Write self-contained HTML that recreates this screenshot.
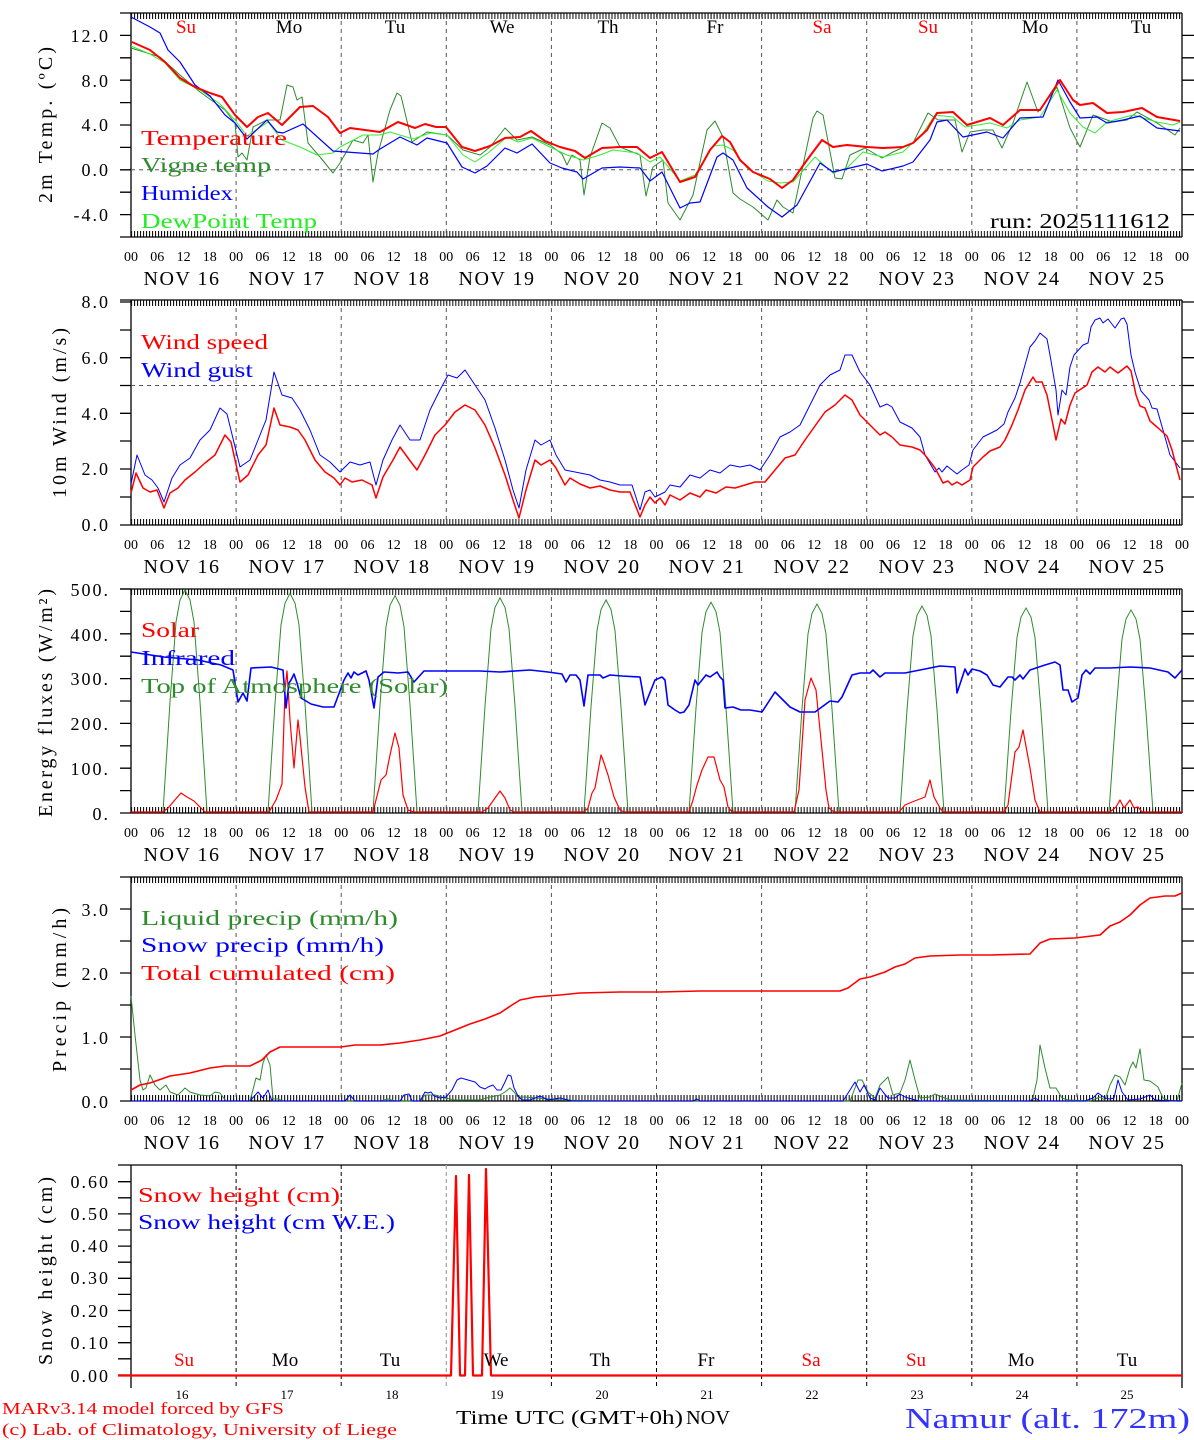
<!DOCTYPE html>
<html><head><meta charset="utf-8"><style>
html,body{margin:0;padding:0;background:#fff;}
svg{display:block;}
text{font-family:"Liberation Serif",serif;}
.hl{font-size:14px;text-anchor:middle;fill:#000;}
.dt{font-size:20px;text-anchor:middle;fill:#000;letter-spacing:1.5px;}
.yl{font-size:18px;text-anchor:end;fill:#000;letter-spacing:2px;}
.lg{font-size:21px;}
.ax{stroke:#000;stroke-width:1.3;fill:none;}
.gr{stroke:#555;stroke-width:1;stroke-dasharray:4,4;fill:none;}
.s{fill:none;stroke-linejoin:round;}
</style></head><body>
<svg width="1194" height="1440" viewBox="0 0 1194 1440" xmlns="http://www.w3.org/2000/svg">
<defs>
<pattern id="tk" x="131" y="0" width="3.003" height="10" patternUnits="userSpaceOnUse"><line x1="0.5" y1="0" x2="0.5" y2="10" stroke="#000" stroke-width="1"/></pattern>
<path id="bell" d="M-22,0 L-15,-110 L-9,-190 L-5,-212 L0,-222 L5,-212 L9,-190 L15,-110 L22,0" fill="none" stroke="#2e8b2e" stroke-width="1"/>
</defs>

<!-- ================= PANEL 1 ================= -->
<g>
<rect x="131" y="13" width="1051" height="6" fill="url(#tk)"/>
<rect x="131" y="231" width="1051" height="6" fill="url(#tk)"/>
<line class="ax" x1="120" y1="13" x2="1182" y2="13"/>
<line class="ax" x1="120" y1="237" x2="1182" y2="237"/>
<line class="ax" x1="131" y1="13" x2="131" y2="237"/>
<line class="ax" x1="1182" y1="13" x2="1182" y2="237"/>
<g class="ax"><path d="M120,35.4H131M120,57.8H131M120,80.2H131M120,102.6H131M120,125H131M120,147.4H131M120,169.8H131M120,192.2H131M120,214.6H131M1182,35.4H1194M1182,57.8H1194M1182,80.2H1194M1182,102.6H1194M1182,125H1194M1182,147.4H1194M1182,169.8H1194M1182,192.2H1194M1182,214.6H1194"/></g>
<path class="gr" d="M236.1,13V237M341.2,13V237M446.3,13V237M551.4,13V237M656.5,13V237M761.6,13V237M866.7,13V237M971.8,13V237M1076.9,13V237M131,169.8H1182"/>
<text class="yl" x="110" y="42">12.0</text><text class="yl" x="110" y="87">8.0</text><text class="yl" x="110" y="131">4.0</text><text class="yl" x="110" y="176">0.0</text><text class="yl" x="110" y="221">-4.0</text>
<text x="52" y="125" transform="rotate(-90 52 125)" text-anchor="middle" font-size="20" textLength="156" lengthAdjust="spacing">2m Temp. (ºC)</text>
<g font-size="19" text-anchor="middle">
<text x="186" y="33" fill="#f00">Su</text><text x="289" y="33">Mo</text><text x="395" y="33">Tu</text><text x="502" y="33">We</text><text x="608" y="33">Th</text><text x="715" y="33">Fr</text><text x="822" y="33" fill="#f00">Sa</text><text x="928" y="33" fill="#f00">Su</text><text x="1035" y="33">Mo</text><text x="1141" y="33">Tu</text>
</g>
<polyline class="s" stroke="#2e8b2e" stroke-width="1" points="131,48 160,57 180,75 200,92 225,110 235,123 238,157 242,153 247,160 253,127 267,120 280,120 287,85 293,87 297,100 302,97 308,143 320,157 333,173 340,163 353,140 363,143 368,135 373,182 378,153 390,110 397,93 401,96 412,142 427,132 447,135 463,150 480,155 490,147 505,128 517,140 532,137 550,145 562,154 567,165 572,155 580,160 584,195 590,157 602,123 610,128 620,147 640,155 646,196 653,167 663,160 668,203 680,220 693,195 707,130 715,121 723,137 733,193 740,199 753,207 768,220 777,200 783,207 793,213 813,118 817,111 823,115 835,178 842,179 850,155 865,148 882,158 893,152 913,143 928,113 938,120 955,120 962,152 970,132 983,130 993,130 1002,148 1013,123 1027,82 1038,112 1057,87 1070,128 1080,147 1093,115 1113,122 1127,120 1137,112 1157,123 1175,135 1180,128"/>
<polyline class="s" stroke="#33ee33" stroke-width="1" points="131,46 150,54 165,63 180,80 200,90 220,104 235,120 247,136 268,122 282,140 300,147 317,155 333,153 340,147 363,135 380,135 390,132 413,139 430,133 447,135 463,155 475,162 488,153 507,137 518,142 532,138 550,147 567,155 583,160 600,155 613,150 637,153 650,162 660,157 680,181 695,175 713,146 723,145 733,150 747,168 768,181 780,183 793,182 815,157 833,173 847,168 863,152 883,157 903,152 923,133 935,115 953,117 965,127 990,123 1007,128 1020,120 1040,117 1057,90 1070,113 1083,127 1095,133 1107,122 1133,115 1157,122 1173,125 1180,122"/>
<polyline class="s" stroke="#0000ff" stroke-width="1.2" points="131,17 150,27 160,33 168,50 180,62 195,85 210,96 225,115 235,123 247,139 267,120 277,132 283,133 303,124 333,151 373,154 380,149 400,137 417,145 427,138 447,143 462,167 475,173 487,166 505,148 517,153 532,144 550,163 562,168 577,172 583,179 602,168 620,167 640,168 650,181 662,172 680,208 690,203 700,202 717,157 723,153 733,160 747,188 768,207 782,217 797,205 820,163 833,172 850,168 867,164 882,171 903,166 913,162 930,140 937,122 947,120 963,137 987,132 1003,138 1020,118 1043,117 1058,80 1070,102 1080,118 1097,117 1107,123 1123,120 1140,116 1157,128 1180,131"/>
<polyline class="s" stroke="#ff0000" stroke-width="2" points="132,42 150,50 165,62 180,78 195,87 210,93 222,97 235,115 247,127 258,117 268,113 282,125 300,107 313,106 328,117 340,133 350,128 365,130 380,132 398,122 415,128 425,124 436,127 446,127 462,147 475,151 490,146 505,138 520,137 531,131 545,141 560,147 575,151 585,158 602,148 620,147 637,147 650,158 662,152 680,182 695,177 710,150 722,136 730,142 740,160 753,172 770,179 782,188 793,180 807,160 822,140 833,147 847,145 867,147 883,148 903,147 913,143 927,130 937,113 953,112 967,125 990,118 1003,125 1020,110 1040,110 1060,80 1073,100 1080,105 1093,103 1107,113 1123,112 1142,108 1157,117 1180,121"/>
<g class="lg">
<text x="141" y="145" fill="#f00" textLength="146" lengthAdjust="spacingAndGlyphs">Temperature</text>
<text x="141" y="172" fill="#2e8b2e" textLength="130" lengthAdjust="spacingAndGlyphs">Vigne temp</text>
<text x="141" y="200" fill="#00f" textLength="92" lengthAdjust="spacingAndGlyphs">Humidex</text>
<text x="141" y="228" fill="#22ee22" textLength="176" lengthAdjust="spacingAndGlyphs">DewPoint Temp</text>
<text x="990" y="228" fill="#000" textLength="180" lengthAdjust="spacingAndGlyphs">run: 2025111612</text>
</g>
<text class="hl" y="261"><tspan x="131">00</tspan><tspan x="157.3">06</tspan><tspan x="183.6">12</tspan><tspan x="209.8">18</tspan><tspan x="236.1">00</tspan><tspan x="262.4">06</tspan><tspan x="288.7">12</tspan><tspan x="314.9">18</tspan><tspan x="341.2">00</tspan><tspan x="367.5">06</tspan><tspan x="393.8">12</tspan><tspan x="420">18</tspan><tspan x="446.3">00</tspan><tspan x="472.6">06</tspan><tspan x="498.9">12</tspan><tspan x="525.1">18</tspan><tspan x="551.4">00</tspan><tspan x="577.7">06</tspan><tspan x="604">12</tspan><tspan x="630.2">18</tspan><tspan x="656.5">00</tspan><tspan x="682.8">06</tspan><tspan x="709.1">12</tspan><tspan x="735.3">18</tspan><tspan x="761.6">00</tspan><tspan x="787.9">06</tspan><tspan x="814.2">12</tspan><tspan x="840.4">18</tspan><tspan x="866.7">00</tspan><tspan x="893">06</tspan><tspan x="919.3">12</tspan><tspan x="945.5">18</tspan><tspan x="971.8">00</tspan><tspan x="998.1">06</tspan><tspan x="1024.4">12</tspan><tspan x="1050.6">18</tspan><tspan x="1076.9">00</tspan><tspan x="1103.2">06</tspan><tspan x="1129.5">12</tspan><tspan x="1155.7">18</tspan><tspan x="1182">00</tspan></text>
<text class="dt" y="285"><tspan x="182">NOV 16</tspan><tspan x="287">NOV 17</tspan><tspan x="392">NOV 18</tspan><tspan x="497">NOV 19</tspan><tspan x="602">NOV 20</tspan><tspan x="707">NOV 21</tspan><tspan x="812">NOV 22</tspan><tspan x="917">NOV 23</tspan><tspan x="1022">NOV 24</tspan><tspan x="1127">NOV 25</tspan></text>
</g>

<!-- ================= PANEL 2 ================= -->
<g>
<rect x="131" y="300" width="1051" height="6" fill="url(#tk)"/>
<rect x="131" y="519" width="1051" height="6" fill="url(#tk)"/>
<line class="ax" x1="120" y1="300" x2="1182" y2="300"/>
<line class="ax" x1="120" y1="525" x2="1182" y2="525"/>
<line class="ax" x1="131" y1="300" x2="131" y2="525"/>
<line class="ax" x1="1182" y1="300" x2="1182" y2="525"/>
<path class="ax" d="M120,302H131M120,330H131M120,357.7H131M120,385.5H131M120,413.3H131M120,441H131M120,469H131M120,497H131M1182,302H1194M1182,330H1194M1182,357.7H1194M1182,385.5H1194M1182,413.3H1194M1182,441H1194M1182,469H1194M1182,497H1194"/>
<path class="gr" d="M236.1,300V525M341.2,300V525M446.3,300V525M551.4,300V525M656.5,300V525M761.6,300V525M866.7,300V525M971.8,300V525M1076.9,300V525M131,385.5H1182"/>
<text class="yl" x="110" y="308">8.0</text><text class="yl" x="110" y="364">6.0</text><text class="yl" x="110" y="420">4.0</text><text class="yl" x="110" y="475">2.0</text><text class="yl" x="110" y="531">0.0</text>
<text x="66" y="413" transform="rotate(-90 66 413)" text-anchor="middle" font-size="20" textLength="170" lengthAdjust="spacing">10m Wind (m/s)</text>
<polyline class="s" stroke="#0000ff" stroke-width="1" points="131,484 137,455 145,475 152,480 158,488 164,502 172,478 180,465 190,458 200,440 210,430 220,408 227,414 240,467 250,460 258,440 266,420 274,372 282,395 292,398 300,410 310,430 320,455 330,462 340,472 350,462 360,465 370,462 376,485 383,460 392,440 400,425 410,440 420,440 430,410 440,390 448,375 457,378 465,370 475,385 485,400 495,428 505,460 513,490 519,508 526,470 535,440 541,445 550,440 556,455 565,470 575,472 590,475 600,480 610,482 620,485 632,485 640,510 645,492 650,490 655,497 665,492 670,485 680,487 690,475 700,478 710,470 720,473 730,465 740,467 750,465 760,470 770,455 780,437 790,432 800,425 810,405 820,385 830,375 840,370 845,355 852,355 860,372 870,385 880,407 887,404 892,407 900,422 912,428 920,437 925,455 935,472 939,468 942,472 947,466 952,470 957,474 962,470 969,465 973,450 983,437 997,430 1004,424 1008,412 1015,398 1020,383 1025,365 1030,347 1035,341 1040,333 1047,339 1050,355 1056,390 1058,415 1062,390 1066,395 1070,367 1074,355 1083,345 1088,343 1091,327 1095,320 1100,318 1103,323 1108,319 1115,328 1121,319 1124,318 1127,324 1131,355 1135,372 1141,391 1149,400 1152,408 1157,409 1163,430 1170,455 1180,468"/>
<polyline class="s" stroke="#ff0000" stroke-width="1.5" points="131,493 136,473 143,488 150,492 157,490 164,508 170,493 178,488 185,480 195,472 205,463 215,455 225,435 231,442 240,482 248,475 258,455 266,445 274,408 280,425 290,427 298,430 305,440 315,460 325,472 334,478 340,485 345,478 352,482 362,480 372,485 376,498 383,477 393,460 400,447 408,458 417,470 425,455 435,435 445,425 455,412 465,405 475,410 485,425 495,448 505,475 513,500 519,518 526,490 535,460 541,465 550,460 556,468 565,485 570,478 580,484 590,488 600,486 610,490 620,492 630,492 640,517 645,505 650,497 655,503 660,498 665,505 670,495 680,500 690,493 700,497 706,490 716,493 726,487 735,488 745,485 755,482 765,482 775,470 785,458 795,455 805,440 815,426 825,412 835,405 845,395 852,400 860,415 870,425 880,435 885,432 892,437 900,445 912,447 920,450 925,455 935,468 943,483 948,481 952,485 957,482 962,485 970,480 973,467 983,457 990,451 1000,447 1005,440 1012,425 1018,410 1025,390 1033,377 1036,382 1042,382 1047,395 1056,440 1061,419 1065,424 1070,405 1075,393 1087,385 1092,372 1098,367 1105,372 1110,367 1118,373 1127,366 1131,371 1136,395 1140,406 1145,408 1150,421 1157,427 1167,436 1172,450 1180,480"/>
<g class="lg">
<text x="141" y="349" fill="#f00" textLength="127" lengthAdjust="spacingAndGlyphs">Wind speed</text>
<text x="141" y="377" fill="#00f" textLength="112" lengthAdjust="spacingAndGlyphs">Wind gust</text>
</g>
<text class="hl" y="549"><tspan x="131">00</tspan><tspan x="157.3">06</tspan><tspan x="183.6">12</tspan><tspan x="209.8">18</tspan><tspan x="236.1">00</tspan><tspan x="262.4">06</tspan><tspan x="288.7">12</tspan><tspan x="314.9">18</tspan><tspan x="341.2">00</tspan><tspan x="367.5">06</tspan><tspan x="393.8">12</tspan><tspan x="420">18</tspan><tspan x="446.3">00</tspan><tspan x="472.6">06</tspan><tspan x="498.9">12</tspan><tspan x="525.1">18</tspan><tspan x="551.4">00</tspan><tspan x="577.7">06</tspan><tspan x="604">12</tspan><tspan x="630.2">18</tspan><tspan x="656.5">00</tspan><tspan x="682.8">06</tspan><tspan x="709.1">12</tspan><tspan x="735.3">18</tspan><tspan x="761.6">00</tspan><tspan x="787.9">06</tspan><tspan x="814.2">12</tspan><tspan x="840.4">18</tspan><tspan x="866.7">00</tspan><tspan x="893">06</tspan><tspan x="919.3">12</tspan><tspan x="945.5">18</tspan><tspan x="971.8">00</tspan><tspan x="998.1">06</tspan><tspan x="1024.4">12</tspan><tspan x="1050.6">18</tspan><tspan x="1076.9">00</tspan><tspan x="1103.2">06</tspan><tspan x="1129.5">12</tspan><tspan x="1155.7">18</tspan><tspan x="1182">00</tspan></text>
<text class="dt" y="573"><tspan x="182">NOV 16</tspan><tspan x="287">NOV 17</tspan><tspan x="392">NOV 18</tspan><tspan x="497">NOV 19</tspan><tspan x="602">NOV 20</tspan><tspan x="707">NOV 21</tspan><tspan x="812">NOV 22</tspan><tspan x="917">NOV 23</tspan><tspan x="1022">NOV 24</tspan><tspan x="1127">NOV 25</tspan></text>
</g>

<!-- ================= PANEL 3 ================= -->
<g>
<rect x="131" y="589" width="1051" height="6" fill="url(#tk)"/>
<rect x="131" y="807" width="1051" height="6" fill="url(#tk)"/>
<line class="ax" x1="120" y1="589" x2="1182" y2="589"/>
<line class="ax" x1="120" y1="813" x2="1182" y2="813"/>
<line class="ax" x1="131" y1="589" x2="131" y2="813"/>
<line class="ax" x1="1182" y1="589" x2="1182" y2="813"/>
<path class="ax" d="M120,589H131M120,611.4H131M120,633.8H131M120,656.2H131M120,678.6H131M120,701H131M120,723.4H131M120,745.8H131M120,768.2H131M120,790.6H131M1182,611.4H1194M1182,633.8H1194M1182,656.2H1194M1182,678.6H1194M1182,701H1194M1182,723.4H1194M1182,745.8H1194M1182,768.2H1194M1182,790.6H1194"/>
<path class="gr" d="M236.1,589V813M341.2,589V813M446.3,589V813M551.4,589V813M656.5,589V813M761.6,589V813M866.7,589V813M971.8,589V813M1076.9,589V813"/>
<text class="yl" x="110" y="596">500.</text><text class="yl" x="110" y="641">400.</text><text class="yl" x="110" y="685">300.</text><text class="yl" x="110" y="730">200.</text><text class="yl" x="110" y="775">100.</text><text class="yl" x="110" y="820">0.</text>
<text x="52" y="703" transform="rotate(-90 52 703)" text-anchor="middle" font-size="20" textLength="228" lengthAdjust="spacing">Energy fluxes (W/m²)</text>
<use href="#bell" transform="translate(185,812)"/>
<use href="#bell" transform="translate(290,812) scale(1,0.985)"/>
<use href="#bell" transform="translate(395,812) scale(1,0.975)"/>
<use href="#bell" transform="translate(500,812) scale(1,0.965)"/>
<use href="#bell" transform="translate(606,812) scale(1,0.955)"/>
<use href="#bell" transform="translate(711,812) scale(1,0.945)"/>
<use href="#bell" transform="translate(817,812) scale(1,0.937)"/>
<use href="#bell" transform="translate(922,812) scale(1,0.928)"/>
<use href="#bell" transform="translate(1026,812) scale(1,0.919)"/>
<use href="#bell" transform="translate(1131,812) scale(1,0.91)"/>
<polyline class="s" stroke="#ff0000" stroke-width="1.2" points="131,812 163,812 168,808 174,801 181,793 187,797 194,801 200,807 205,812 269,812 276,800 282,784 285,690 287,671 290,720 294,768 298,720 300,737 305,787 309,812 373,812 381,780 386,775 390,755 395,733 399,748 403,795 408,810 414,812 482,812 488,808 495,798 500,791 505,798 510,810 514,812 584,812 588,808 592,793 595,788 601,755 603,760 608,775 614,797 620,810 624,812 689,812 693,800 697,785 702,770 708,757 714,757 720,780 724,787 728,807 732,812 794,812 799,790 805,700 811,678 816,690 821,740 826,790 829,808 834,812 899,812 905,805 912,802 925,797 930,780 934,797 940,808 943,812 1004,812 1008,805 1015,752 1019,747 1023,730 1030,768 1035,800 1040,812 1110,812 1116,807 1120,800 1124,808 1130,800 1134,808 1138,807 1142,812 1182,812"/>
<polyline class="s" stroke="#0000ff" stroke-width="1.6" points="131,652 164,657 198,660 221,665 233,670 238,702 243,693 247,701 251,668 271,667 283,670 286,708 289,683 291,680 294,674 297,683 301,698 311,704 323,707 334,707 344,680 348,673 351,678 354,672 358,675 366,671 369,680 374,708 378,677 384,672 398,673 408,672 414,682 424,671 446,671 480,671 500,672 530,670 548,672 562,674 566,682 570,675 576,675 580,680 584,706 588,675 600,675 603,678 610,675 622,676 640,677 645,705 655,680 662,677 665,680 668,705 675,710 680,713 684,712 689,705 695,680 698,685 706,675 710,677 717,672 720,677 723,680 725,708 733,707 741,710 750,710 762,712 775,692 790,707 800,712 815,712 830,701 838,702 842,697 852,675 860,673 870,673 873,670 880,677 885,673 905,673 925,669 940,666 955,667 957,693 965,669 968,675 972,669 980,671 987,675 993,685 1000,687 1008,677 1012,677 1015,680 1020,675 1023,679 1030,670 1045,665 1055,662 1060,665 1063,690 1068,690 1072,702 1078,698 1082,675 1086,670 1090,674 1095,668 1110,668 1130,667 1150,668 1168,672 1175,678 1182,670"/>
<g class="lg">
<text x="141" y="637" fill="#f00" textLength="58" lengthAdjust="spacingAndGlyphs">Solar</text>
<text x="141" y="665" fill="#00f" textLength="94" lengthAdjust="spacingAndGlyphs">Infrared</text>
<text x="141" y="693" fill="#2e8b2e" textLength="307" lengthAdjust="spacingAndGlyphs">Top of Atmosphere (Solar)</text>
</g>
<text class="hl" y="837"><tspan x="131">00</tspan><tspan x="157.3">06</tspan><tspan x="183.6">12</tspan><tspan x="209.8">18</tspan><tspan x="236.1">00</tspan><tspan x="262.4">06</tspan><tspan x="288.7">12</tspan><tspan x="314.9">18</tspan><tspan x="341.2">00</tspan><tspan x="367.5">06</tspan><tspan x="393.8">12</tspan><tspan x="420">18</tspan><tspan x="446.3">00</tspan><tspan x="472.6">06</tspan><tspan x="498.9">12</tspan><tspan x="525.1">18</tspan><tspan x="551.4">00</tspan><tspan x="577.7">06</tspan><tspan x="604">12</tspan><tspan x="630.2">18</tspan><tspan x="656.5">00</tspan><tspan x="682.8">06</tspan><tspan x="709.1">12</tspan><tspan x="735.3">18</tspan><tspan x="761.6">00</tspan><tspan x="787.9">06</tspan><tspan x="814.2">12</tspan><tspan x="840.4">18</tspan><tspan x="866.7">00</tspan><tspan x="893">06</tspan><tspan x="919.3">12</tspan><tspan x="945.5">18</tspan><tspan x="971.8">00</tspan><tspan x="998.1">06</tspan><tspan x="1024.4">12</tspan><tspan x="1050.6">18</tspan><tspan x="1076.9">00</tspan><tspan x="1103.2">06</tspan><tspan x="1129.5">12</tspan><tspan x="1155.7">18</tspan><tspan x="1182">00</tspan></text>
<text class="dt" y="861"><tspan x="182">NOV 16</tspan><tspan x="287">NOV 17</tspan><tspan x="392">NOV 18</tspan><tspan x="497">NOV 19</tspan><tspan x="602">NOV 20</tspan><tspan x="707">NOV 21</tspan><tspan x="812">NOV 22</tspan><tspan x="917">NOV 23</tspan><tspan x="1022">NOV 24</tspan><tspan x="1127">NOV 25</tspan></text>
</g>

<!-- ================= PANEL 4 ================= -->
<g>
<rect x="131" y="877" width="1051" height="6" fill="url(#tk)"/>
<rect x="131" y="1095" width="1051" height="6" fill="url(#tk)"/>
<line class="ax" x1="120" y1="877" x2="1182" y2="877"/>
<line class="ax" x1="120" y1="1101" x2="1182" y2="1101"/>
<line class="ax" x1="131" y1="877" x2="131" y2="1101"/>
<line class="ax" x1="1182" y1="877" x2="1182" y2="1101"/>
<path class="ax" d="M120,909H131M120,941H131M120,973H131M120,1005H131M120,1037H131M120,1069H131M1182,909H1194M1182,941H1194M1182,973H1194M1182,1005H1194M1182,1037H1194M1182,1069H1194"/>
<path class="gr" d="M236.1,877V1101M341.2,877V1101M446.3,877V1101M551.4,877V1101M656.5,877V1101M761.6,877V1101M866.7,877V1101M971.8,877V1101M1076.9,877V1101"/>
<text class="yl" x="110" y="916">3.0</text><text class="yl" x="110" y="980">2.0</text><text class="yl" x="110" y="1044">1.0</text><text class="yl" x="110" y="1108">0.0</text>
<text x="66" y="990" transform="rotate(-90 66 990)" text-anchor="middle" font-size="20" textLength="164" lengthAdjust="spacing">Precip (mm/h)</text>
<polyline class="s" stroke="#2e8b2e" stroke-width="1" points="131,996 135,1035 140,1080 143,1090 146,1088 150,1075 155,1085 160,1090 166,1085 170,1092 178,1095 185,1088 190,1092 200,1095 210,1096 215,1092 220,1093 226,1101 250,1101 256,1078 260,1080 263,1063 266,1055 270,1065 273,1099 278,1099 283,1101 380,1101 388,1099 395,1101 420,1101 425,1095 435,1095 445,1098 455,1100 480,1100 490,1097 500,1095 505,1092 510,1088 514,1092 518,1097 525,1097 535,1098 550,1099 560,1100 600,1101 850,1101 858,1080 862,1080 868,1092 875,1098 880,1085 888,1077 893,1095 900,1093 905,1080 910,1060 915,1080 920,1098 930,1097 935,1094 942,1097 950,1100 1030,1101 1033,1098 1037,1080 1040,1045 1045,1068 1050,1088 1056,1088 1062,1098 1068,1100 1090,1101 1100,1097 1105,1100 1110,1085 1115,1075 1120,1077 1125,1085 1130,1068 1133,1062 1136,1068 1140,1049 1144,1080 1150,1081 1158,1087 1163,1098 1170,1101 1177,1101 1182,1083"/>
<polyline class="s" stroke="#0000ff" stroke-width="1" points="131,1101 250,1101 258,1092 263,1098 268,1090 272,1101 345,1101 350,1095 355,1101 400,1101 404,1095 409,1094 412,1101 420,1101 425,1092 428,1093 431,1092 434,1096 440,1098 446,1097 452,1090 457,1080 461,1078 468,1080 475,1082 480,1087 485,1089 488,1087 493,1085 497,1090 501,1090 505,1082 508,1075 511,1076 514,1088 518,1096 522,1100 530,1100 540,1096 548,1100 560,1098 572,1101 693,1101 697,1099 700,1101 843,1101 850,1090 855,1082 860,1092 864,1085 870,1098 875,1100 880,1088 883,1092 888,1098 895,1098 900,1094 905,1097 915,1100 920,1101 1030,1101 1035,1098 1040,1101 1085,1101 1093,1098 1098,1093 1105,1098 1110,1099 1114,1098 1118,1080 1122,1092 1128,1100 1140,1099 1150,1095 1155,1100 1182,1101"/>
<polyline class="s" stroke="#ff0000" stroke-width="1.6" points="131,1090 140,1085 150,1083 170,1076 190,1073 210,1068 225,1066 250,1066 262,1060 270,1052 280,1047 300,1047 341,1047 355,1045 380,1045 400,1043 420,1040 440,1036 455,1030 470,1024 485,1019 500,1013 512,1005 520,1000 535,997 560,995 580,993 620,992 660,992 700,991 760,991 840,991 848,988 860,979 870,977 885,972 895,967 905,964 915,958 930,956 960,955 990,955 1030,954 1040,943 1050,939 1075,938 1100,935 1110,926 1120,922 1130,915 1140,905 1150,898 1165,896 1175,896 1182,893"/>
<g class="lg">
<text x="141" y="925" fill="#2e8b2e" textLength="257" lengthAdjust="spacingAndGlyphs">Liquid precip (mm/h)</text>
<text x="141" y="952" fill="#00f" textLength="243" lengthAdjust="spacingAndGlyphs">Snow precip (mm/h)</text>
<text x="141" y="980" fill="#f00" textLength="254" lengthAdjust="spacingAndGlyphs">Total cumulated (cm)</text>
</g>
<text class="hl" y="1125"><tspan x="131">00</tspan><tspan x="157.3">06</tspan><tspan x="183.6">12</tspan><tspan x="209.8">18</tspan><tspan x="236.1">00</tspan><tspan x="262.4">06</tspan><tspan x="288.7">12</tspan><tspan x="314.9">18</tspan><tspan x="341.2">00</tspan><tspan x="367.5">06</tspan><tspan x="393.8">12</tspan><tspan x="420">18</tspan><tspan x="446.3">00</tspan><tspan x="472.6">06</tspan><tspan x="498.9">12</tspan><tspan x="525.1">18</tspan><tspan x="551.4">00</tspan><tspan x="577.7">06</tspan><tspan x="604">12</tspan><tspan x="630.2">18</tspan><tspan x="656.5">00</tspan><tspan x="682.8">06</tspan><tspan x="709.1">12</tspan><tspan x="735.3">18</tspan><tspan x="761.6">00</tspan><tspan x="787.9">06</tspan><tspan x="814.2">12</tspan><tspan x="840.4">18</tspan><tspan x="866.7">00</tspan><tspan x="893">06</tspan><tspan x="919.3">12</tspan><tspan x="945.5">18</tspan><tspan x="971.8">00</tspan><tspan x="998.1">06</tspan><tspan x="1024.4">12</tspan><tspan x="1050.6">18</tspan><tspan x="1076.9">00</tspan><tspan x="1103.2">06</tspan><tspan x="1129.5">12</tspan><tspan x="1155.7">18</tspan><tspan x="1182">00</tspan></text>
<text class="dt" y="1149"><tspan x="182">NOV 16</tspan><tspan x="287">NOV 17</tspan><tspan x="392">NOV 18</tspan><tspan x="497">NOV 19</tspan><tspan x="602">NOV 20</tspan><tspan x="707">NOV 21</tspan><tspan x="812">NOV 22</tspan><tspan x="917">NOV 23</tspan><tspan x="1022">NOV 24</tspan><tspan x="1127">NOV 25</tspan></text>
</g>

<!-- ================= PANEL 5 ================= -->
<g>
<line class="ax" x1="118" y1="1165" x2="1182" y2="1165"/>
<line class="ax" x1="131" y1="1165" x2="131" y2="1388"/>
<line class="ax" x1="1182" y1="1165" x2="1182" y2="1388"/>
<path class="ax" d="M118,1181.7H131M118,1197.8H131M118,1213.9H131M118,1230H131M118,1246.1H131M118,1262.2H131M118,1278.3H131M118,1294.4H131M118,1310.5H131M118,1326.6H131M118,1342.7H131M118,1358.8H131M118,1375H131"/>
<path d="M236.1,1165V1388M341.2,1165V1388M551.4,1165V1388M656.5,1165V1388M761.6,1165V1388M866.7,1165V1388M971.8,1165V1388M1076.9,1165V1388" stroke="#000" stroke-width="1" stroke-dasharray="4,3" fill="none"/>
<path d="M446.3,1165V1388" stroke="#aaa" stroke-width="1.3" stroke-dasharray="4,3" fill="none"/>
<text class="yl" x="110" y="1188">0.60</text><text class="yl" x="110" y="1220">0.50</text><text class="yl" x="110" y="1252">0.40</text><text class="yl" x="110" y="1284">0.30</text><text class="yl" x="110" y="1317">0.20</text><text class="yl" x="110" y="1349">0.10</text><text class="yl" x="110" y="1382">0.00</text>
<text x="52" y="1271" transform="rotate(-90 52 1271)" text-anchor="middle" font-size="20" textLength="188" lengthAdjust="spacing">Snow height (cm)</text>
<polyline class="s" stroke="#ff0000" stroke-width="2.2" points="118,1375.5 451,1375.5 456,1176 460,1375.5 465,1375.5 469,1175 473,1375.5 482,1375.5 486,1169 491,1375.5 1182,1375.5"/>
<g class="lg">
<text x="138" y="1202" fill="#f00" textLength="202" lengthAdjust="spacingAndGlyphs">Snow height (cm)</text>
<text x="138" y="1229" fill="#00f" textLength="257" lengthAdjust="spacingAndGlyphs">Snow height (cm W.E.)</text>
</g>
<g font-size="19" text-anchor="middle">
<text x="184" y="1366" fill="#f00">Su</text><text x="285" y="1366">Mo</text><text x="390" y="1366">Tu</text><text x="496" y="1366">We</text><text x="600" y="1366">Th</text><text x="706" y="1366">Fr</text><text x="811" y="1366" fill="#f00">Sa</text><text x="916" y="1366" fill="#f00">Su</text><text x="1021" y="1366">Mo</text><text x="1127" y="1366">Tu</text>
</g>
<g font-size="13" text-anchor="middle">
<text x="182" y="1399">16</text><text x="287" y="1399">17</text><text x="392" y="1399">18</text><text x="497" y="1399">19</text><text x="602" y="1399">20</text><text x="707" y="1399">21</text><text x="812" y="1399">22</text><text x="917" y="1399">23</text><text x="1022" y="1399">24</text><text x="1127" y="1399">25</text>
</g>
</g>

<!-- footer -->
<text x="2" y="1414" font-size="17" fill="#f00" textLength="282" lengthAdjust="spacingAndGlyphs">MARv3.14 model forced by GFS</text>
<text x="2" y="1435" font-size="17" fill="#f00" textLength="395" lengthAdjust="spacingAndGlyphs">(c) Lab. of Climatology, University of Liege</text>
<text x="456" y="1424" font-size="20" textLength="227" lengthAdjust="spacingAndGlyphs">Time UTC (GMT+0h)</text>
<text x="686" y="1424" font-size="20" textLength="44" lengthAdjust="spacingAndGlyphs">NOV</text>
<text x="905" y="1428" font-size="29" fill="#3333ff" textLength="285" lengthAdjust="spacingAndGlyphs">Namur (alt. 172m)</text>
</svg>
</body></html>
